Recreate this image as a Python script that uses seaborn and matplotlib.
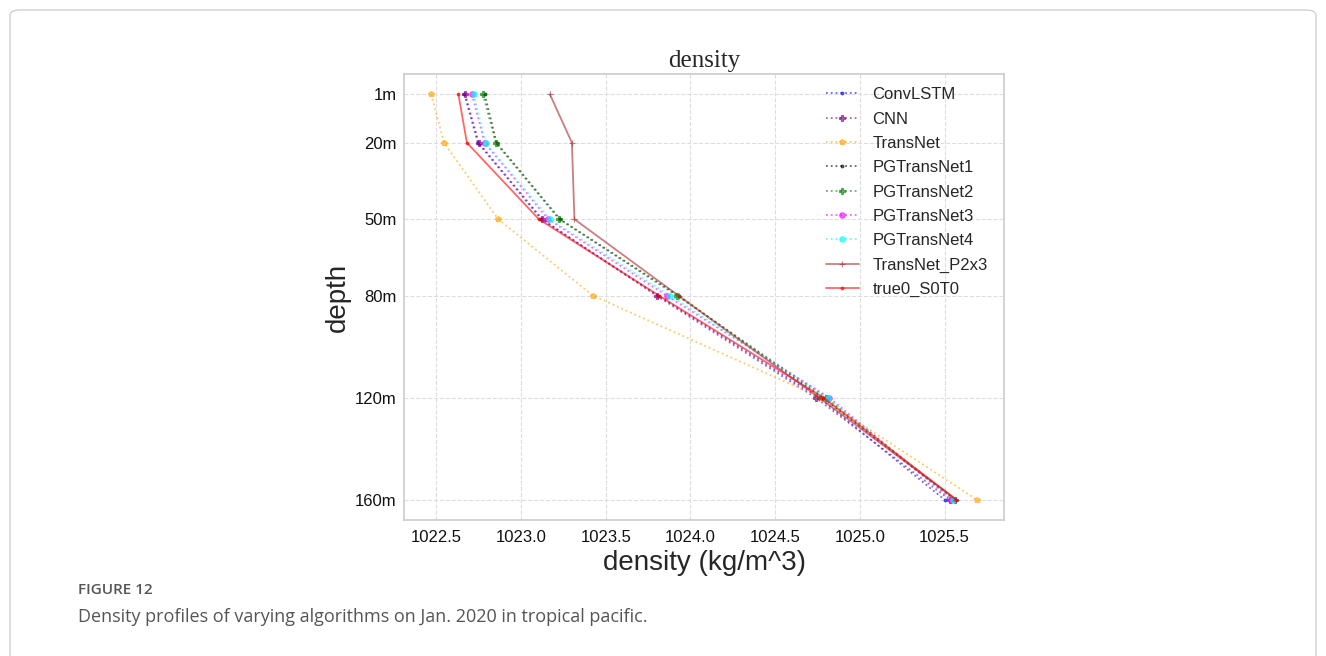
import matplotlib
matplotlib.use("Agg")
import matplotlib.pyplot as plt
import seaborn as sns
import pandas as pd
from matplotlib.patches import FancyBboxPatch

depths = [1, 20, 50, 80, 120, 160]
depth_labels = ["1m", "20m", "50m", "80m", "120m", "160m"]

convlstm = [1022.665, 1022.745, 1023.12, 1023.81, 1024.76, 1025.50]
cnn = [1022.67, 1022.75, 1023.125, 1023.80, 1024.74, 1025.53]
transnet = [1022.47, 1022.545, 1022.865, 1023.425, 1024.77, 1025.69]
pgtransnet1 = [1022.785, 1022.855, 1023.23, 1023.93, 1024.78, 1025.56]
pgtransnet2 = [1022.775, 1022.85, 1023.225, 1023.92, 1024.80, 1025.56]
pgtransnet3 = [1022.71, 1022.785, 1023.16, 1023.86, 1024.82, 1025.54]
pgtransnet4 = [1022.72, 1022.79, 1023.17, 1023.88, 1024.81, 1025.55]
transnet_p2x3 = [1023.17, 1023.30, 1023.315, 1023.93, 1024.76, 1025.57]
true0 = [1022.63, 1022.68, 1023.105, 1023.815, 1024.785, 1025.57]

series = [
    ("ConvLSTM", convlstm, "blue", ":", "."),
    ("CNN", cnn, "purple", ":", "P"),
    ("TransNet", transnet, "orange", ":", "p"),
    ("PGTransNet1", pgtransnet1, "black", ":", "."),
    ("PGTransNet2", pgtransnet2, "green", ":", "P"),
    ("PGTransNet3", pgtransnet3, "magenta", ":", "o"),
    ("PGTransNet4", pgtransnet4, "cyan", ":", "o"),
    ("TransNet_P2x3", transnet_p2x3, "brown", "-", "+"),
    ("true0_S0T0", true0, "red", "-", "."),
]

sns.set_style("whitegrid", {"grid.linestyle": "--", "grid.color": "#dddddd",
                            "axes.edgecolor": "#cccccc"})
plt.rcParams["font.family"] = ["Liberation Sans", "DejaVu Sans"]

fig = plt.figure(figsize=(13.26, 6.56), dpi=100)
ax = fig.add_axes([0.3047, 0.2073, 0.4525, 0.6799])

for name, vals, color, ls, mk in series:
    df = pd.DataFrame({"density": vals, "depth": depths})
    sns.lineplot(data=df, x="density", y="depth", sort=False, estimator=None,
                 ax=ax, color=color, linestyle=ls, marker=mk, markersize=4,
                 markeredgewidth=0.8, markeredgecolor=color, linewidth=1.3,
                 alpha=0.6, label=name)

ax.invert_yaxis()
ax.set_yticks(depths)
ax.set_yticklabels(depth_labels)
ax.set_xticks([1022.5, 1023.0, 1023.5, 1024.0, 1024.5, 1025.0, 1025.5])
ax.tick_params(axis="x", labelsize=12, colors="#111111", pad=4)
ax.tick_params(axis="y", labelsize=12, colors="#111111", pad=2)
ax.set_xlabel("density (kg/m^3)", fontsize=20, labelpad=3)
ax.set_ylabel("depth", fontsize=20, labelpad=3)
ax.set_title("density", fontsize=18, family=["Liberation Serif", "DejaVu Serif"], pad=5)
for s in ax.spines.values():
    s.set_color("#cccccc")
    s.set_linewidth(1.2)

leg = ax.legend(loc="upper right", bbox_to_anchor=(0.995, 1.0), frameon=False,
                fontsize=12, handlelength=2.0, labelspacing=0.56, borderaxespad=0.4)

frame = FancyBboxPatch((10 / 1326, -0.05), 1306 / 1326, 1 - 10 / 656 + 0.05,
                       boxstyle="round,pad=0,rounding_size=0.008",
                       transform=fig.transFigure, fill=False, edgecolor="#d0d0d0",
                       linewidth=1.0, clip_on=False)
fig.patches.append(frame)

fig.text(78 / 1326, 1 - 590 / 656, "FIGURE 12", fontsize=11, color="#555555",
         family=["Open Sans", "DejaVu Sans"], fontweight="semibold", va="center")
fig.text(78 / 1326, 1 - 617 / 656,
         "Density profiles of varying algorithms on Jan. 2020 in tropical pacific.",
         fontsize=13, color="#555555", family=["Open Sans", "DejaVu Sans"], va="center")

fig.savefig("out.png", dpi=100)
